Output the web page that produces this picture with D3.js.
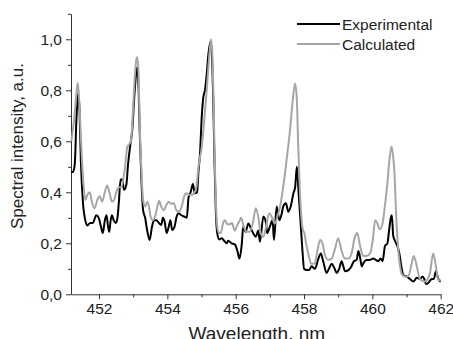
<!DOCTYPE html>
<html>
<head>
<meta charset="utf-8">
<script src="https://cdn.jsdelivr.net/npm/d3@7"></script>
<style>
  html, body { margin: 0; padding: 0; background: #fff; }
  svg { display: block; }
  text { font-family: "Liberation Sans", Arial, Helvetica, sans-serif; fill: #222; }
</style>
</head>
<body>
<svg id="chart" width="453" height="339"></svg>
<script>
// Measured emission spectrum: wavelength (nm) and normalised intensity
const experimentalWavelength = [
  451.19, 451.24, 451.29, 451.34, 451.39, 451.43, 451.47, 451.53, 451.60, 451.66,
  451.74, 451.82, 451.92, 451.99, 452.05, 452.11, 452.17, 452.22, 452.26, 452.30,
  452.34, 452.38, 452.43, 452.49, 452.54, 452.58, 452.63, 452.68, 452.73, 452.80,
  452.85, 452.91, 452.97, 453.04, 453.09, 453.12, 453.16, 453.19, 453.24, 453.29,
  453.35, 453.41, 453.48, 453.55, 453.61, 453.68, 453.75, 453.82, 453.87, 453.92,
  453.98, 454.04, 454.09, 454.14, 454.21, 454.27, 454.33, 454.41, 454.51, 454.57,
  454.62, 454.68, 454.75, 454.80, 454.87, 454.91, 454.96, 455.00, 455.05, 455.10,
  455.15, 455.20, 455.26, 455.29, 455.34, 455.38, 455.42, 455.46, 455.52, 455.59,
  455.66, 455.74, 455.78, 455.88, 455.98, 456.05, 456.11, 456.18, 456.22, 456.29,
  456.37, 456.44, 456.51, 456.59, 456.66, 456.71, 456.81, 456.89, 456.92, 457.00,
  457.08, 457.12, 457.20, 457.28, 457.35, 457.39, 457.47, 457.54, 457.61, 457.69,
  457.74, 457.79, 457.84, 457.90, 457.96, 458.00, 458.08, 458.15, 458.22, 458.32,
  458.42, 458.49, 458.56, 458.66, 458.73, 458.81, 458.88, 458.96, 459.03, 459.10,
  459.15, 459.20, 459.30, 459.39, 459.46, 459.54, 459.59, 459.64, 459.69, 459.75,
  459.83, 459.93, 460.03, 460.10, 460.17, 460.24, 460.30, 460.37, 460.44, 460.48,
  460.54, 460.57, 460.61, 460.66, 460.73, 460.79, 460.86, 460.91, 461.00, 461.10,
  461.20, 461.30, 461.39, 461.47, 461.52, 461.57, 461.64, 461.74, 461.80, 461.86,
  461.93, 462.00
];
const experimentalIntensity = [
  0.48, 0.48, 0.51, 0.69, 0.79, 0.72, 0.52, 0.36, 0.29, 0.27,
  0.28, 0.28, 0.31, 0.30, 0.27, 0.24, 0.29, 0.31, 0.27, 0.245,
  0.29, 0.31, 0.29, 0.28, 0.30, 0.36, 0.45, 0.45, 0.41, 0.43,
  0.51, 0.58, 0.64, 0.79, 0.87, 0.89, 0.80, 0.64, 0.45, 0.33,
  0.30, 0.25, 0.213, 0.265, 0.29, 0.29, 0.28, 0.272, 0.30, 0.285,
  0.24, 0.265, 0.29, 0.252, 0.265, 0.304, 0.318, 0.31, 0.304, 0.30,
  0.38, 0.40, 0.433, 0.396, 0.40, 0.48, 0.56, 0.68, 0.77, 0.80,
  0.86, 0.94, 0.99, 0.97, 0.78, 0.52, 0.32, 0.24, 0.215, 0.22,
  0.21, 0.20, 0.21, 0.20, 0.195, 0.17, 0.14, 0.20, 0.265, 0.245,
  0.278, 0.26, 0.24, 0.226, 0.25, 0.206, 0.305, 0.278, 0.24, 0.265,
  0.29, 0.213, 0.344, 0.29, 0.318, 0.344, 0.357, 0.324, 0.344, 0.396,
  0.42, 0.50, 0.40, 0.28, 0.16, 0.10, 0.095, 0.095, 0.11, 0.10,
  0.14, 0.16, 0.13, 0.084, 0.10, 0.12, 0.105, 0.084, 0.10, 0.13,
  0.11, 0.09, 0.095, 0.11, 0.13, 0.135, 0.17, 0.145, 0.11, 0.125,
  0.135, 0.135, 0.14, 0.135, 0.13, 0.14, 0.13, 0.19, 0.20, 0.24,
  0.30, 0.31, 0.23, 0.21, 0.19, 0.16, 0.10, 0.075, 0.07, 0.06,
  0.05, 0.065, 0.06, 0.07, 0.06, 0.04, 0.045, 0.06, 0.06, 0.09,
  0.06, 0.05
];

// Simulated spectrum
const calculatedWavelength = [
  451.19, 451.24, 451.29, 451.34, 451.38, 451.42, 451.46, 451.53, 451.60, 451.66,
  451.73, 451.79, 451.87, 451.95, 452.02, 452.09, 452.17, 452.24, 452.31, 452.38,
  452.44, 452.51, 452.58, 452.65, 452.75, 452.83, 452.90, 452.94, 452.99, 453.04,
  453.09, 453.12, 453.16, 453.19, 453.24, 453.29, 453.35, 453.41, 453.46, 453.51,
  453.58, 453.65, 453.71, 453.76, 453.82, 453.90, 453.97, 454.04, 454.11, 454.19,
  454.26, 454.33, 454.41, 454.49, 454.55, 454.62, 454.71, 454.78, 454.85, 454.91,
  454.96, 454.99, 455.04, 455.09, 455.14, 455.20, 455.25, 455.28, 455.32, 455.35,
  455.38, 455.41, 455.44, 455.49, 455.56, 455.63, 455.69, 455.75, 455.83, 455.89,
  455.97, 456.04, 456.12, 456.16, 456.24, 456.31, 456.40, 456.50, 456.59, 456.66,
  456.73, 456.81, 456.89, 456.98, 457.05, 457.15, 457.22, 457.30, 457.39, 457.49,
  457.59, 457.67, 457.74, 457.79, 457.83, 457.88, 457.93, 457.97, 458.01, 458.06,
  458.14, 458.21, 458.31, 458.39, 458.47, 458.54, 458.61, 458.71, 458.81, 458.91,
  459.00, 459.10, 459.20, 459.30, 459.39, 459.49, 459.56, 459.64, 459.73, 459.83,
  459.93, 460.01, 460.08, 460.14, 460.22, 460.30, 460.37, 460.44, 460.50, 460.56,
  460.60, 460.65, 460.69, 460.76, 460.81, 460.86, 460.95, 461.05, 461.15, 461.21,
  461.30, 461.39, 461.54, 461.68, 461.78, 461.86, 461.93, 462.00
];
const calculatedIntensity = [
  0.60, 0.65, 0.71, 0.79, 0.83, 0.76, 0.644, 0.46, 0.37, 0.39,
  0.40, 0.363, 0.337, 0.37, 0.385, 0.363, 0.40, 0.427, 0.396, 0.363,
  0.37, 0.403, 0.42, 0.42, 0.487, 0.579, 0.592, 0.605, 0.71, 0.84,
  0.92, 0.93, 0.86, 0.67, 0.49, 0.37, 0.344, 0.363, 0.345, 0.304,
  0.29, 0.31, 0.344, 0.367, 0.344, 0.33, 0.35, 0.363, 0.355, 0.357,
  0.33, 0.324, 0.34, 0.383, 0.396, 0.39, 0.39, 0.396, 0.42, 0.50,
  0.54, 0.56, 0.62, 0.70, 0.78, 0.89, 0.97, 1.00, 0.93, 0.78,
  0.56, 0.41, 0.30, 0.245, 0.24, 0.278, 0.29, 0.275, 0.275, 0.28,
  0.25, 0.27, 0.29, 0.30, 0.265, 0.245, 0.245, 0.278, 0.337, 0.305,
  0.24, 0.226, 0.265, 0.318, 0.305, 0.278, 0.305, 0.344, 0.42, 0.527,
  0.644, 0.762, 0.827, 0.762, 0.58, 0.40, 0.29, 0.25, 0.24, 0.20,
  0.15, 0.12, 0.12, 0.17, 0.213, 0.20, 0.155, 0.135, 0.14, 0.18,
  0.22, 0.17, 0.14, 0.14, 0.16, 0.226, 0.24, 0.19, 0.15, 0.15,
  0.16, 0.21, 0.29, 0.28, 0.255, 0.28, 0.35, 0.435, 0.527, 0.58,
  0.55, 0.47, 0.33, 0.17, 0.11, 0.08, 0.07, 0.07, 0.12, 0.15,
  0.11, 0.06, 0.05, 0.08, 0.16, 0.11, 0.055, 0.055
];

// Axis ticks
const xMajorTicks = [452, 454, 456, 458, 460, 462];
const xMinorTicks = [453, 455, 457, 459, 461];
const yMajorTicks = [0, 0.2, 0.4, 0.6, 0.8, 1.0];
const yMinorTicks = [0.1, 0.3, 0.5, 0.7, 0.9, 1.1];

const seriesNames = ["Experimental", "Calculated"];
const seriesColors = ["#000000", "#a6a6a6"];

const svg = d3.select("#chart");
const margin = { left: 71, right: 12.3, top: 13.8, bottom: 44.7 };
const W = 453, H = 339;

const x = d3.scaleLinear().domain([451.18, 462]).range([margin.left, W - margin.right]);
const y = d3.scaleLinear().domain([0, 1.1]).range([H - margin.bottom, margin.top]);

const fmt = d => d3.format(".1f")(d).replace(".", ",");

// x axis
const gx = svg.append("g").attr("transform", `translate(0,${y(0)})`);
gx.call(d3.axisBottom(x).tickValues(xMajorTicks).tickSize(5).tickSizeOuter(0).tickPadding(4).tickFormat(d3.format("d")));
const gxm = svg.append("g").attr("transform", `translate(0,${y(0)})`);
gxm.call(d3.axisBottom(x).tickValues(xMinorTicks).tickSize(3).tickSizeOuter(0).tickFormat(""));
gxm.select(".domain").remove();

// y axis
const gy = svg.append("g").attr("transform", `translate(${x.range()[0]},0)`);
gy.call(d3.axisLeft(y).tickValues(yMajorTicks).tickSize(5).tickSizeOuter(0).tickPadding(4).tickFormat(fmt));
const gym = svg.append("g").attr("transform", `translate(${x.range()[0]},0)`);
gym.call(d3.axisLeft(y).tickValues(yMinorTicks).tickSize(3).tickSizeOuter(0).tickFormat(""));
gym.select(".domain").remove();

svg.selectAll(".domain, .tick line").attr("stroke", "#333").attr("stroke-width", 1);
svg.selectAll(".tick text").attr("font-size", 15.5).attr("fill", "#222")
  .style("font-family", "'Liberation Sans', Arial, sans-serif");

// axis titles (the x title runs to the bottom edge of the canvas)
svg.append("text")
  .attr("x", (x.range()[0] + x.range()[1]) / 2 + 1)
  .attr("y", 339.5)
  .attr("text-anchor", "middle")
  .attr("font-size", 19)
  .text("Wavelength, nm");

svg.append("text")
  .attr("transform", `translate(23,${(y.range()[0] + y.range()[1]) / 2 - 8}) rotate(-90)`)
  .attr("text-anchor", "middle")
  .attr("font-size", 17)
  .text("Spectral intensity, a.u.");

// spectra
const line = d3.line()
  .x(d => x(d[0]))
  .y(d => y(d[1]))
  .curve(d3.curveMonotoneX);

const series = [
  d3.zip(experimentalWavelength, experimentalIntensity),
  d3.zip(calculatedWavelength, calculatedIntensity)
];

svg.append("g").selectAll("path")
  .data(series)
  .join("path")
  .attr("d", line)
  .attr("fill", "none")
  .attr("stroke", (d, i) => seriesColors[i])
  .attr("stroke-width", 2)
  .attr("stroke-linejoin", "round");

// legend
const legend = svg.append("g");
seriesNames.forEach((name, i) => {
  const ly = 24 + i * 20;
  legend.append("line")
    .attr("x1", 297).attr("x2", 340)
    .attr("y1", ly).attr("y2", ly)
    .attr("stroke", seriesColors[i]).attr("stroke-width", 2);
  legend.append("text")
    .attr("x", 342).attr("y", ly + 5.5)
    .attr("font-size", 15.5)
    .text(name);
});
</script>
</body>
</html>
